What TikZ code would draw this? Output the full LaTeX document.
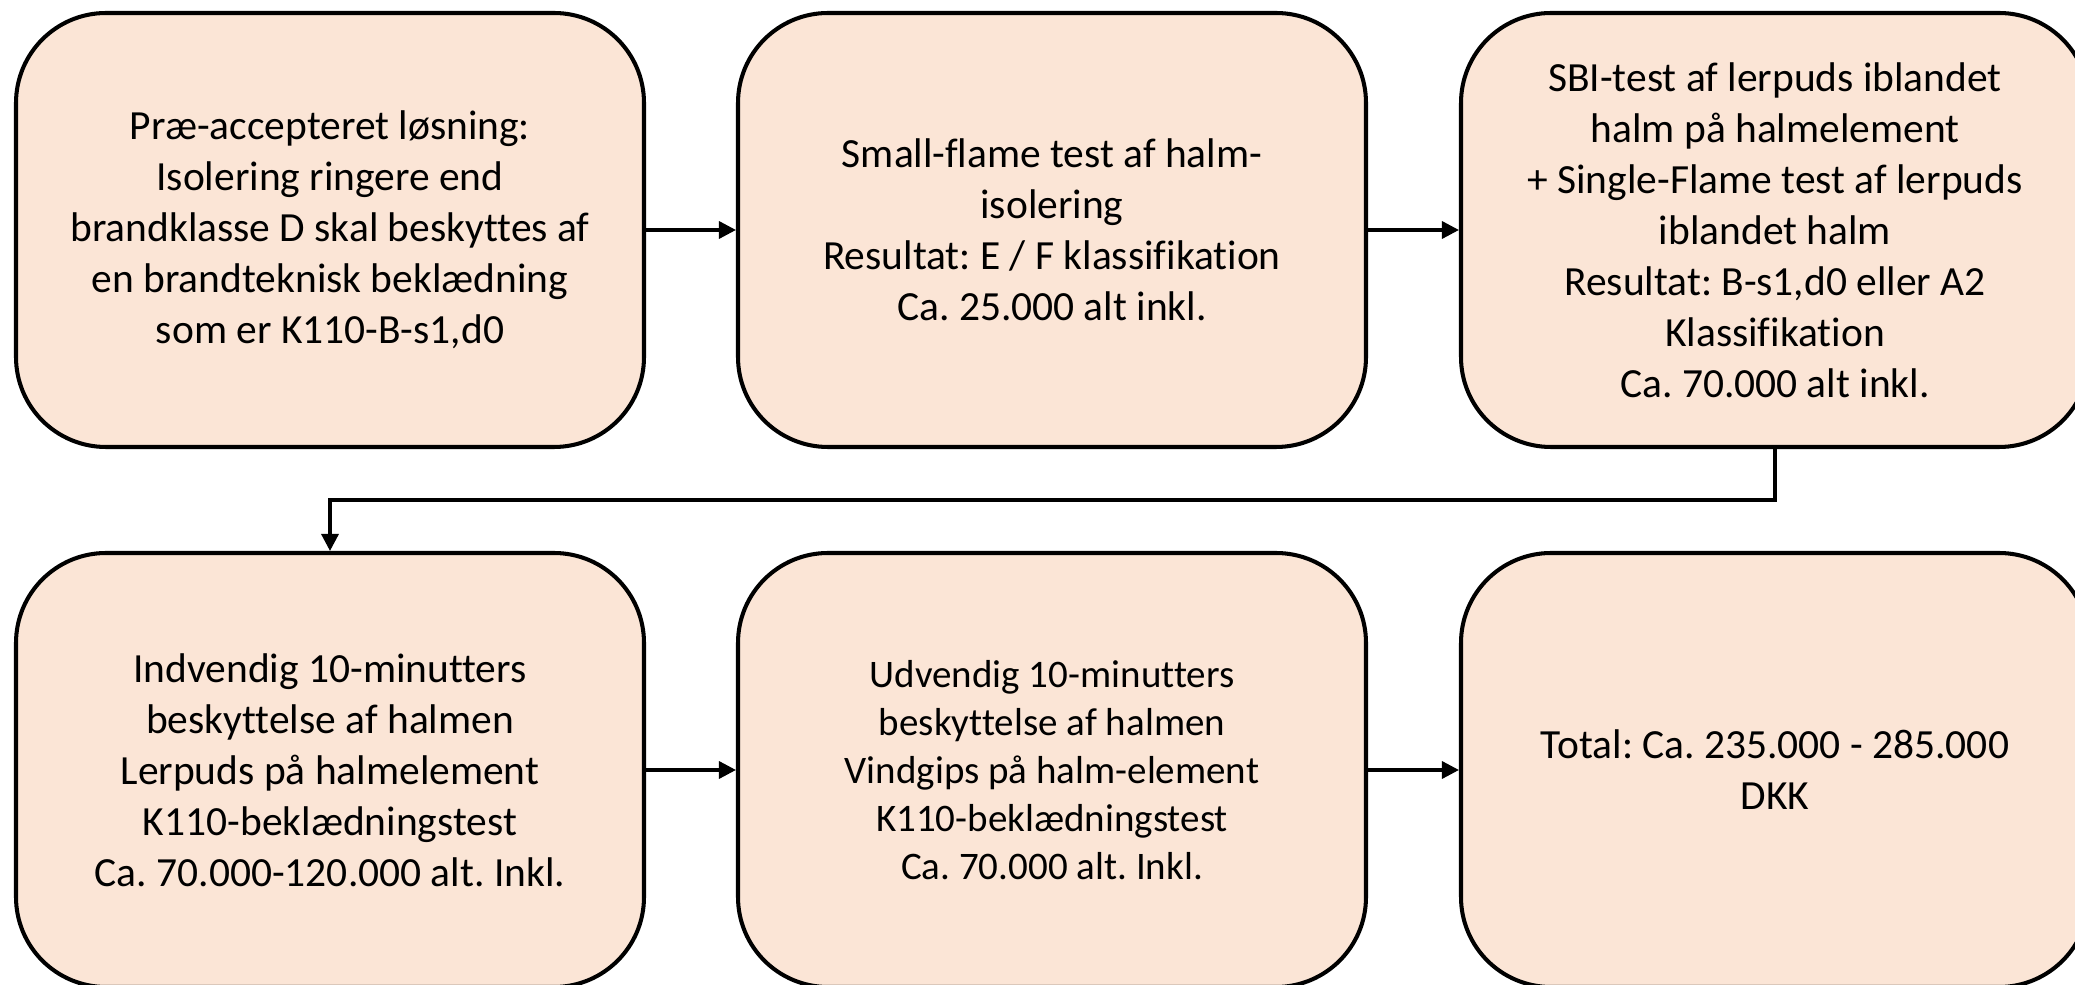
\documentclass[tikz,border=0pt]{standalone}
\usepackage{fontspec}
\setmainfont{Carlito}[Ligatures=NoCommon]
\usepackage{tikz}
\usetikzlibrary{positioning,arrows.meta}
\frenchspacing
\definecolor{peach}{HTML}{FBE5D6}
\tikzstyle{stage} = [rectangle, rounded corners=0.9cm, minimum width=6.28cm, minimum height=4.34cm, align=center, draw=black, line width=1.15pt, fill=peach, font=\fontsize{11.8pt}{14.5pt}\selectfont]
\tikzstyle{arrow} = [line width=0.95pt,-{Triangle[length=0.17cm,width=0.17cm]}]

\begin{document}
\begin{tikzpicture}
\useasboundingbox (0,0) rectangle (20.75,-9.85);
\node[stage] (pre) at (3.30,-2.30) {Præ-accepteret løsning:\\Isolering ringere end\\brandklasse D skal beskyttes af\\en brandteknisk beklædning\\som er K110-B-s1,d0};
\node[stage] (small) at (10.52,-2.30) {Small-flame test af halm-\\isolering\\Resultat: E / F klassifikation\\Ca. 25.000 alt inkl.};
\node[stage] (sbi) at (17.75,-2.30) {SBI-test af lerpuds iblandet\\halm på halmelement\\+ Single-Flame test af lerpuds\\iblandet halm\\Resultat: B-s1,d0 eller A2\\Klassifikation\\Ca. 70.000 alt inkl.};
\node[stage] (indv) at (3.30,-7.70) {Indvendig 10-minutters\\beskyttelse af halmen\\Lerpuds på halmelement\\K110-beklædningstest\\Ca. 70.000-120.000 alt. Inkl.};
\node[stage, font=\fontsize{11.1pt}{13.7pt}\selectfont] (udv) at (10.52,-7.70) {Udvendig 10-minutters\\beskyttelse af halmen\\Vindgips på halm-element\\K110-beklædningstest\\Ca. 70.000 alt. Inkl.};
\node[stage] (total) at (17.75,-7.70) {Total: Ca. 235.000 - 285.000\\DKK};
\coordinate (knee) at (3.30,-5.00);
\draw[arrow] (pre) -- (small);
\draw[arrow] (small) -- (sbi);
\draw[arrow] (sbi.south) |- (knee) -- (indv.north);
\draw[arrow] (indv) -- (udv);
\draw[arrow] (udv) -- (total);
\end{tikzpicture}
\end{document}
